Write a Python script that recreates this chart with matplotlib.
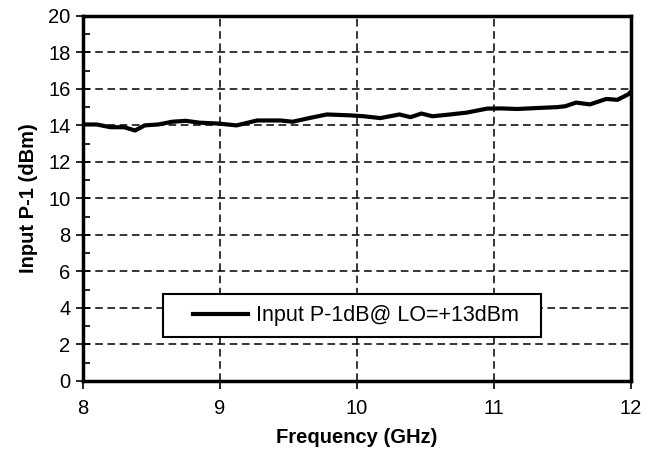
import numpy as np
import matplotlib
matplotlib.use("Agg")
import matplotlib.pyplot as plt
from matplotlib.ticker import MultipleLocator
from matplotlib.patches import Rectangle

plt.rcParams['font.family'] = ['Liberation Sans', 'DejaVu Sans']

# Input P-1dB vs frequency
freq_ghz = [8.00, 8.10, 8.20, 8.30, 8.38, 8.45, 8.55, 8.65, 8.75, 8.85,
            8.99, 9.12, 9.27, 9.44, 9.53, 9.65, 9.78, 9.95, 10.05, 10.17,
            10.31, 10.39, 10.47, 10.55, 10.68, 10.80, 10.95, 11.05, 11.17,
            11.31, 11.46, 11.52, 11.60, 11.70, 11.82, 11.90, 11.98, 12.00]
p1db_dbm = [14.05, 14.05, 13.9, 13.9, 13.72, 14.0, 14.05, 14.2, 14.25, 14.15,
            14.1, 14.0, 14.27, 14.27, 14.2, 14.4, 14.6, 14.55, 14.5, 14.4,
            14.6, 14.45, 14.65, 14.5, 14.6, 14.7, 14.92, 14.93, 14.9,
            14.95, 15.0, 15.05, 15.25, 15.15, 15.45, 15.4, 15.7, 15.85]

legend_label = "Input P-1dB@ LO=+13dBm"

fig = plt.figure(figsize=(6.59, 4.54), dpi=100)
ax = fig.add_axes([0.126, 0.161, 0.8315, 0.804])

ax.plot(freq_ghz, p1db_dbm, color="black", linewidth=3.0, label=legend_label,
        zorder=2)

ax.set_xlim(8, 12)
ax.set_ylim(0, 20)
ax.xaxis.set_major_locator(MultipleLocator(1))
ax.yaxis.set_major_locator(MultipleLocator(2))
ax.yaxis.set_minor_locator(MultipleLocator(1))

ax.grid(True, which="major", color="black", linestyle=(0, (5, 3)), linewidth=1.1)

for s in ax.spines.values():
    s.set_linewidth(2.5)

ax.tick_params(axis="y", which="major", direction="inout", length=10, width=1.2,
               labelsize=14.5, pad=4)
ax.tick_params(axis="y", which="minor", direction="in", length=5, width=1.2)
ax.tick_params(axis="x", which="major", direction="out", length=6, width=1.2,
               labelsize=14.5, pad=7)

ax.set_xlabel("Frequency (GHz)", fontsize=14.5, fontweight="bold", labelpad=7)
ax.set_ylabel("Input P-1 (dBm)", fontsize=14.5, fontweight="bold", labelpad=7)

# legend frame drawn as a box in axes coords, legend itself unframed
ax.add_patch(Rectangle((0.146, 0.12), 0.69, 0.118, transform=ax.transAxes,
                       facecolor="white", edgecolor="black", linewidth=1.5,
                       zorder=4))
leg = ax.legend(loc="center", bbox_to_anchor=(0.498, 0.179), fontsize=15.5,
                frameon=False, handlelength=2.55, handletextpad=0.4,
                borderpad=0, borderaxespad=0)
leg.set_zorder(5)
for ln in leg.get_lines():
    ln.set_linewidth(3)

fig.savefig("out.png", dpi=100)
